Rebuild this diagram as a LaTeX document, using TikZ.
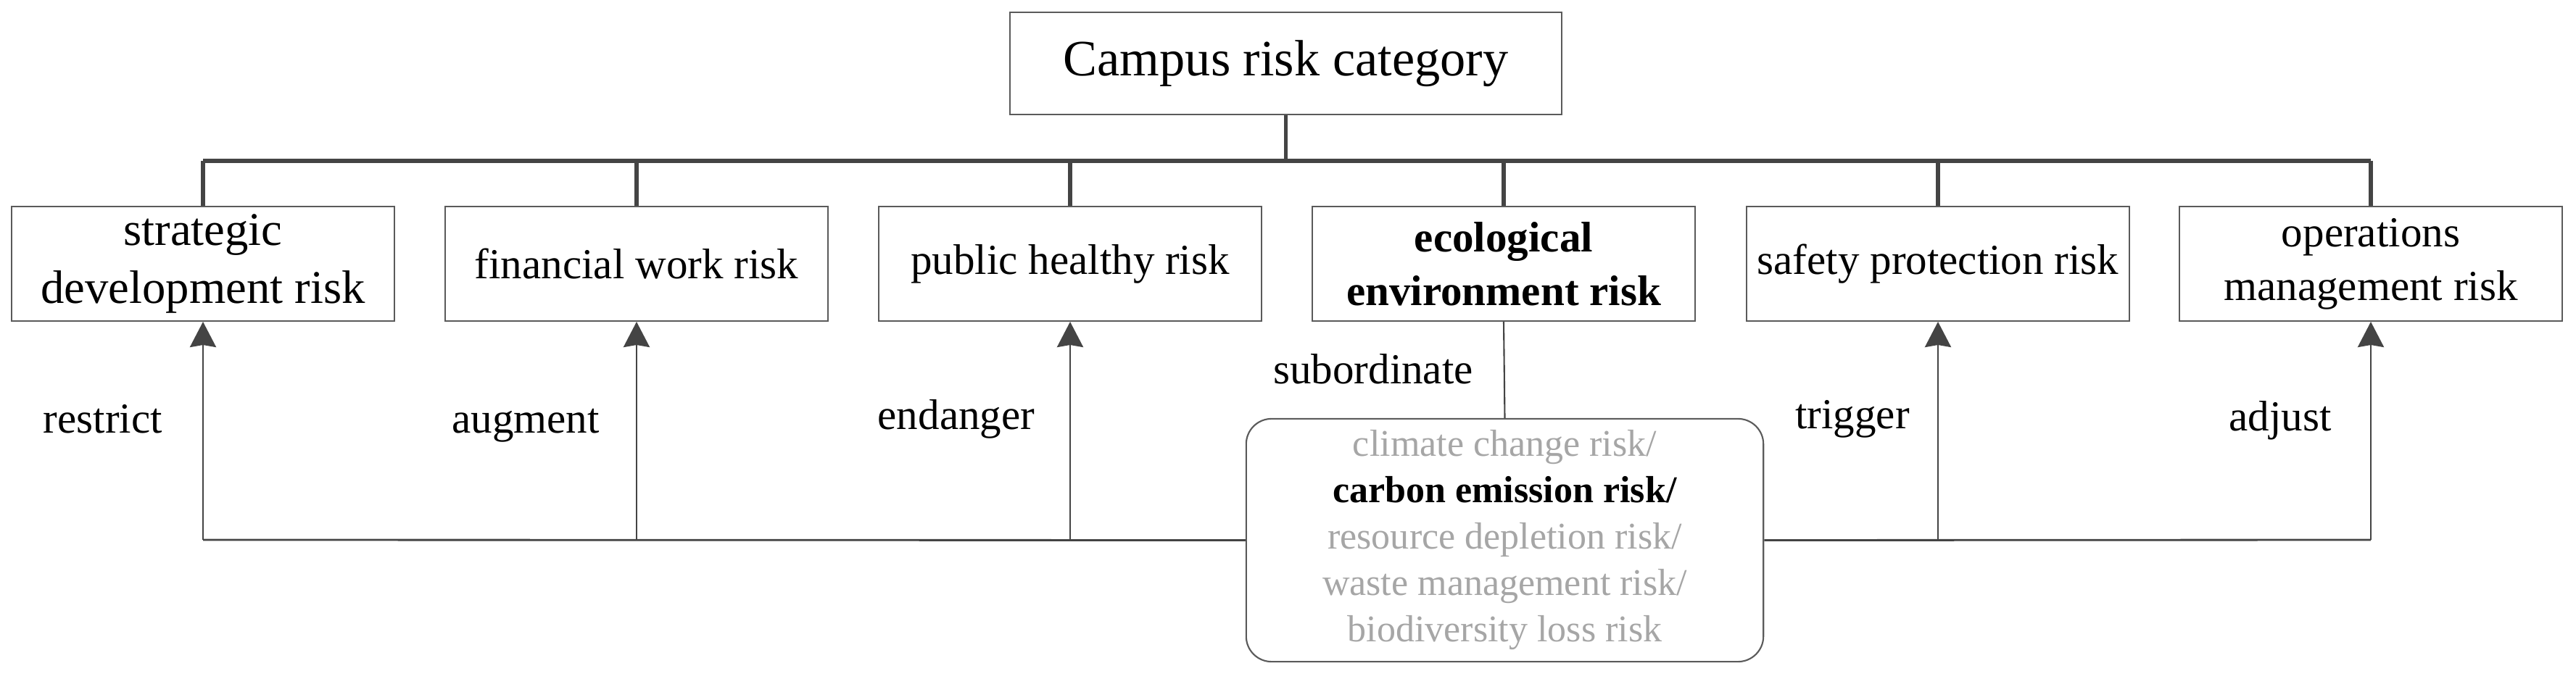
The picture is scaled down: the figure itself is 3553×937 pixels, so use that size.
\documentclass[tikz,border=0pt]{standalone}
\usepackage{fontspec}
\setmainfont{Liberation Serif}
\usetikzlibrary{arrows.meta}
\definecolor{linegray}{HTML}{444444}
\definecolor{boxgray}{HTML}{5A5A5A}
\definecolor{txtgray}{HTML}{A6A6A6}
\begin{document}
\begin{tikzpicture}[x=0.01cm,y=-0.01cm]
\tikzset{
  catbox/.style={draw=boxgray, line width=0.55pt, minimum width=5.27cm, minimum height=1.58cm,
    inner sep=0pt, align=center, font=\fontsize{16.8}{21}\selectfont},
  topbox/.style={draw=boxgray, line width=0.55pt, minimum width=7.61cm, minimum height=1.41cm,
    inner sep=0pt, font=\fontsize{20}{24}\selectfont},
  riskbox/.style={draw=boxgray, line width=0.6pt, rounded corners=0.35cm, minimum width=7.13cm,
    minimum height=3.35cm, inner sep=0pt, align=center, text=txtgray,
    font=\fontsize{14.8}{18.2}\selectfont},
  lbl/.style={anchor=base, inner sep=0pt, font=\fontsize{16.8}{20}\selectfont},
  barline/.style={draw=linegray, line width=1.7pt},
  stemline/.style={draw=linegray, line width=1.5pt},
  flowline/.style={draw=linegray, line width=0.8pt},
  subline/.style={draw=linegray, line width=0.6pt},
  arr/.style={flowline, -{Stealth[length=0.35cm, width=0.36cm, inset=0.03cm]}},
}
\fill[white] (0,0) rectangle (3553,937);
\useasboundingbox (0,0) rectangle (3553,937);

\node[topbox] (top) at (1773.5,87.5) {Campus risk category};

\node[catbox, font=\fontsize{18.4}{22.5}\selectfont] (b1) at (280,364) {strategic\\development risk};
\node[catbox] (b2) at (878,364) {financial work risk};
\node[catbox] (b3) at (1476,364) {public healthy risk};
\node[catbox, font=\fontsize{16.8}{21}\selectfont\bfseries] (b4) at (2074,364) {ecological\\environment risk};
\node[catbox] (b5) at (2673,364) {safety protection risk};
\node[catbox] (b6) at (3270,364) {operations\\management risk};

\node[riskbox] (risk) at (2075.5,745.5) {climate change risk/\\
  \textcolor{black}{\bfseries carbon emission risk/}\\
  resource depletion risk/\\
  waste management risk/\\
  biodiversity loss risk};

\coordinate (barY) at (0,222);
\coordinate (lowY) at (0,745);

% top tree
\draw[stemline] (top.south) -- (top.south |- barY);
\draw[barline] (b1.north |- barY) -- (b6.north |- barY);
\foreach \b in {b1,b2,b3,b4,b5,b6}{
  \draw[stemline] (\b.north |- barY) -- (\b.north);
}

% bottom connections
\draw[flowline] (b1.south |- lowY) -- (risk.west);
\draw[flowline] (risk.east) -- (b6.south |- lowY);
\foreach \b in {b1,b2,b3,b5,b6}{
  \draw[arr] (\b.south |- lowY) -- (\b.south);
}
\draw[subline] (b4.south) -- (risk.north);

% labels
\node[lbl] (l1) at (142,598) {restrict};
\node[lbl] (l2) at (725,598) {augment};
\node[lbl] (l3) at (1319,593) {endanger};
\node[lbl] (l4) at (1894,530) {subordinate};
\node[lbl] (l5) at (2555,592) {trigger};
\node[lbl] (l6) at (3145,595) {adjust};
\end{tikzpicture}
\end{document}
